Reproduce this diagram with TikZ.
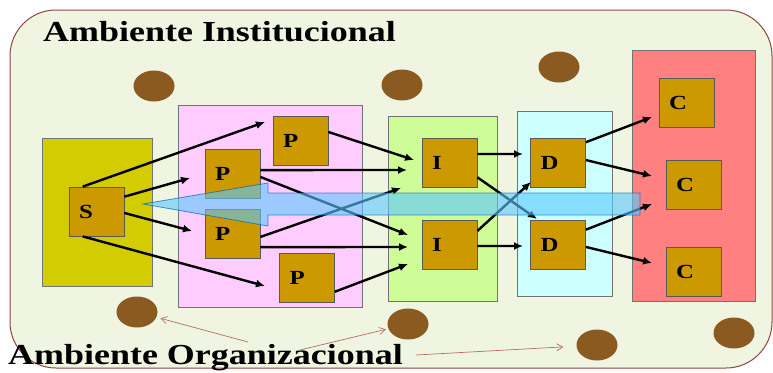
\documentclass[tikz,border=0pt]{standalone}
\usepackage{fontspec}
\setmainfont{Liberation Serif}
\usepackage{graphicx}
\usepackage{tikz}
\usetikzlibrary{arrows.meta,shapes.geometric}
\definecolor{bgfill}{RGB}{239,245,224}
\definecolor{edge}{RGB}{140,72,62}
\definecolor{srcfill}{RGB}{210,204,0}
\definecolor{prodfill}{RGB}{255,204,255}
\definecolor{indfill}{RGB}{206,252,150}
\definecolor{distfill}{RGB}{204,255,255}
\definecolor{consfill}{RGB}{255,128,128}
\definecolor{unitfill}{RGB}{204,153,0}
\definecolor{blobbrown}{RGB}{139,90,32}
\definecolor{hintred}{RGB}{180,110,105}
\definecolor{flowblue}{RGB}{90,200,255}
\newcommand{\wtxt}[1]{\scalebox{1.24}[1]{#1}}

\begin{document}
\begin{tikzpicture}[x=1pt,y=-1pt,
  grp/.style={draw=black!55,line width=0.8pt},
  unit/.style={draw=black!65,line width=0.8pt,fill=unitfill,minimum width=55pt,minimum height=49pt,
    text width=35pt,inner xsep=10pt,inner ysep=0pt,align=left,font=\fontsize{20}{20}\selectfont\bfseries},
  blob/.style={ellipse,fill=blobbrown,minimum width=41pt,minimum height=31pt,inner sep=0pt},
  flow/.style={draw,line width=2.4pt,-{Latex[length=9pt,width=8pt]}},
  hint/.style={draw=hintred,line width=0.7pt,-{Straight Barb[length=6pt,width=7pt]}},
  heading/.style={anchor=base west,inner sep=0pt,font=\fontsize{29}{29}\selectfont\bfseries}]
\useasboundingbox (0,0) rectangle (773,372);
\draw[fill=bgfill,draw=edge,line width=1pt,rounded corners=46pt] (10,10) rectangle (772,368);
\node[heading] (inst) at (43,41) {\wtxt{Ambiente Institucional}};

\draw[grp,fill=srcfill] (42,138) rectangle (152,286);
\draw[grp,fill=prodfill] (178,105) rectangle (362,307);
\draw[grp,fill=indfill] (388,116) rectangle (497,301);
\draw[grp,fill=distfill] (517,111) rectangle (612,296);
\draw[grp,fill=consfill] (632,50) rectangle (755,301);

\node[blob] (o1) at (154,86) {};
\node[blob] (o2) at (402,85) {};
\node[blob] (o3) at (559,67) {};
\node[blob] (o4) at (137,312) {};
\node[blob] (o5) at (408,324) {};
\node[blob] (o6) at (597,345) {};
\node[blob] (o7) at (734,333) {};

\node[unit] (S) at (96.5,211.5) {\wtxt{S}};
\node[unit] (P1) at (300.5,140.5) {\wtxt{P}};
\node[unit] (P2) at (232.5,173.5) {\wtxt{P}};
\node[unit] (P3) at (232.5,233.5) {\wtxt{P}};
\node[unit] (P4) at (307,277.5) {\wtxt{P}};
\node[unit] (I1) at (449.5,162.5) {\wtxt{I}};
\node[unit] (I2) at (449.5,244.5) {\wtxt{I}};
\node[unit] (D1) at (558,162.5) {\wtxt{D}};
\node[unit] (D2) at (558,244.5) {\wtxt{D}};
\node[unit] (C1) at (686.5,103) {\wtxt{C}};
\node[unit] (C2) at (693.5,184.5) {\wtxt{C}};
\node[unit] (C3) at (693.5,271.5) {\wtxt{C}};

\coordinate (s1) at (265,122);
\coordinate (s2) at (190,178);
\coordinate (s3) at (192,231);
\coordinate (s4) at (265,286);
\coordinate (p1) at (414,160);
\coordinate (p2) at (407,170);
\coordinate (p3) at (408,235);
\coordinate (p4) at (401,188);
\coordinate (p5) at (408,247);
\coordinate (p6) at (408,264);
\coordinate (i1) at (523,154);
\coordinate (i2) at (537,219);
\coordinate (i3) at (531,182);
\coordinate (i4) at (523,246);
\coordinate (d1) at (652,117);
\coordinate (d2) at (652,176);
\coordinate (d3) at (652,204);
\coordinate (d4) at (652,263);
\path (S.119) edge[flow] (s1) (S.28) edge[flow] (s2) (S.-3) edge[flow] (s3) (S.241) edge[flow] (s4);
\path (P1.17) edge[flow] (p1) (P2.7) edge[flow] (p2) (P2.-7) edge[flow] (p3) (P3.-7) edge[flow] (p4) (P3.-26) edge[flow] (p5) (P4.-27) edge[flow] (p6);
\path (I1.17) edge[flow] (i1) (I1.-28) edge[flow] (i2) (I2.26) edge[flow] (i3) (I2.-3) edge[flow] (i4);
\path (D1.36) edge[flow] (d1) (D1.5) edge[flow] (d2) (D2.28) edge[flow] (d3) (D2.-5) edge[flow] (d4);

\draw[fill=flowblue,fill opacity=0.6,draw=black!45!blue!60!cyan,draw opacity=0.7,line width=0.8pt]
  (143,204) -- (268,183) -- (268,193) -- (640,193) -- (640,215) -- (268,215) -- (268,226) -- cycle;

\node[heading] (org) at (8,364) {\wtxt{Ambiente Organizacional}};
\coordinate (h1) at (248,342);
\coordinate (h2) at (300,350);
\coordinate (h3) at (416,355);
\draw[hint,shorten >=4pt] (h1) -- (o4);
\draw[hint,shorten >=2.5pt] (h2) -- (o5);
\draw[hint,shorten >=13pt] (h3) -- (o6);
\end{tikzpicture}
\end{document}
